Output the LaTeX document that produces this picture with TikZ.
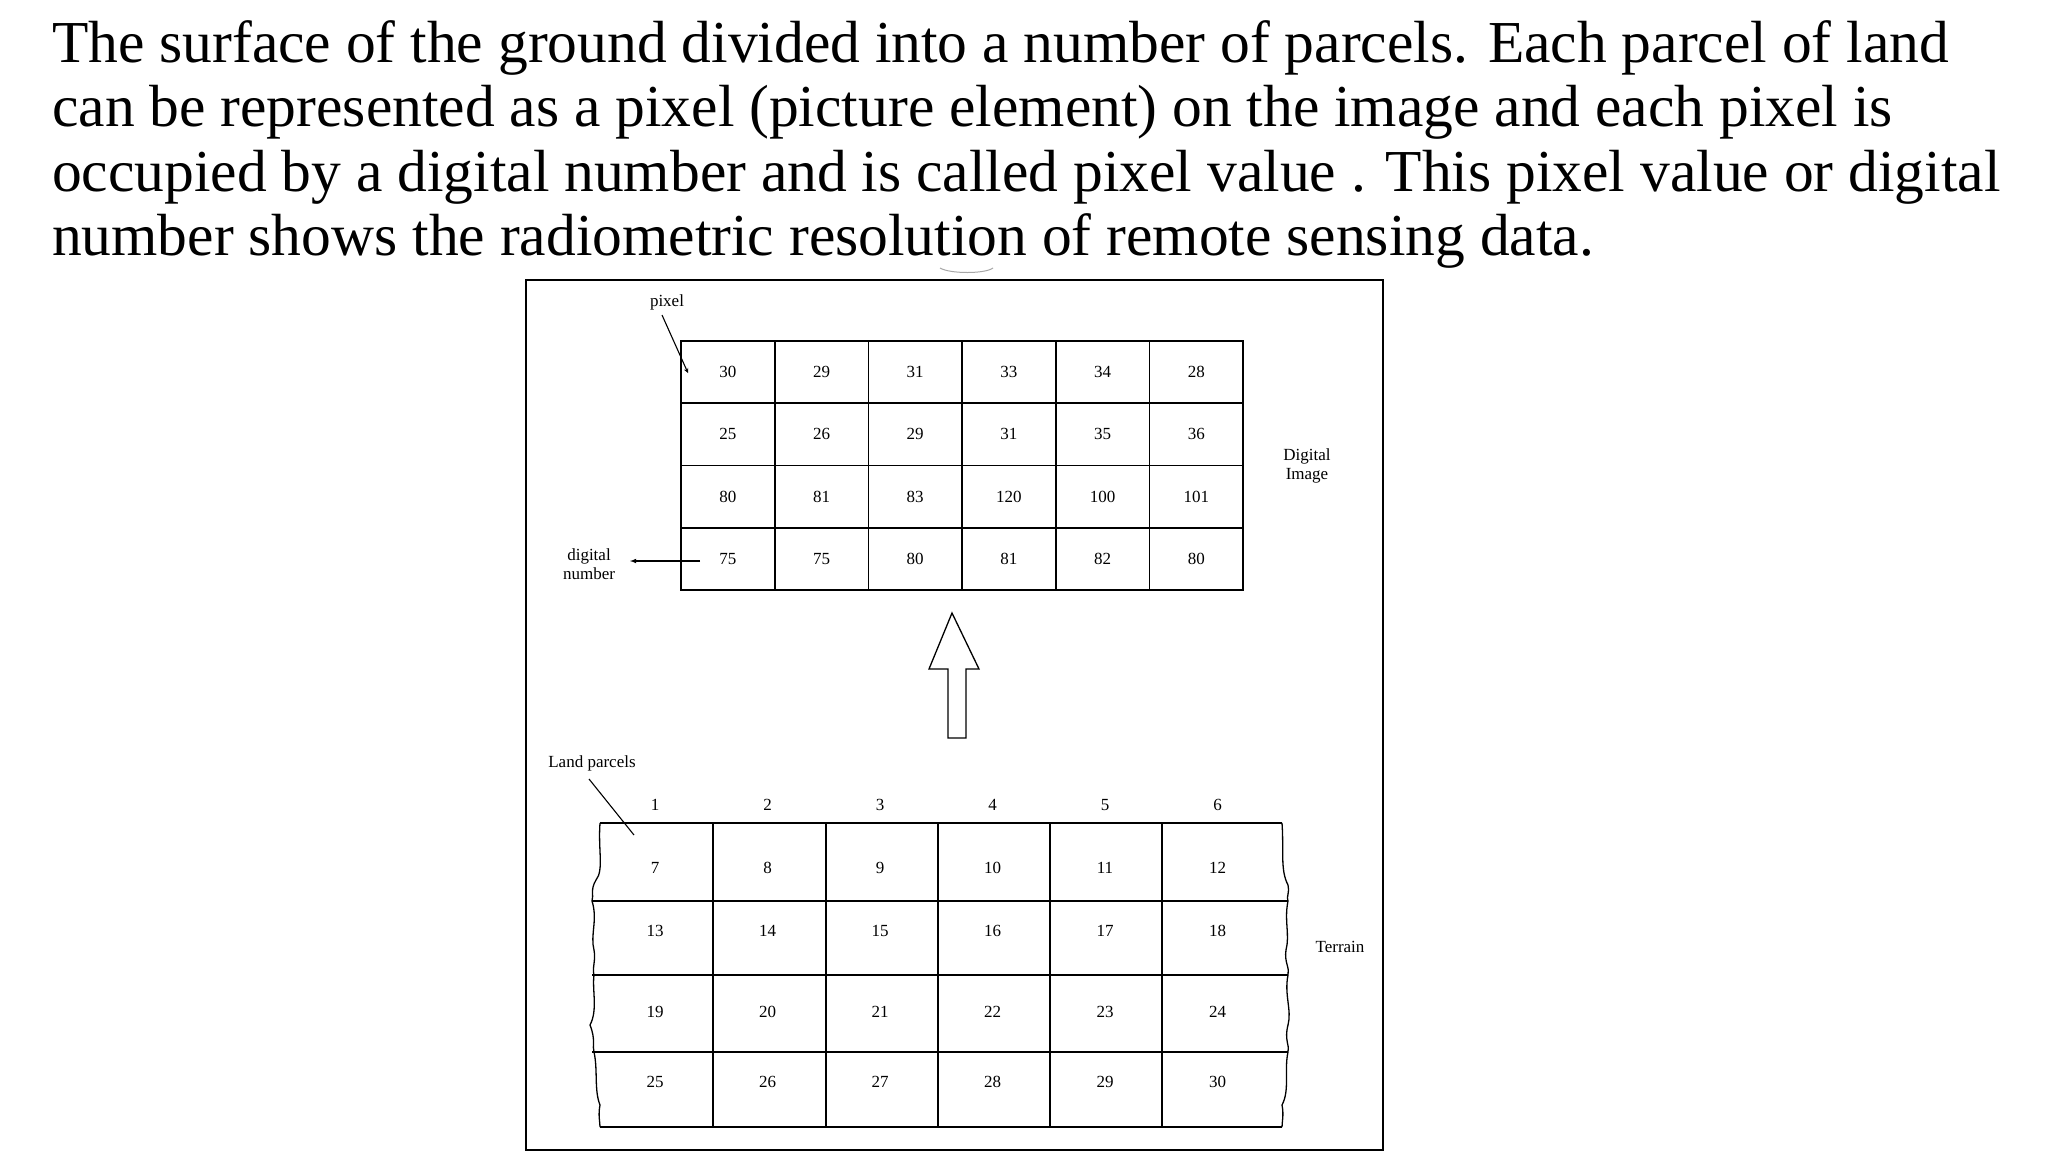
\documentclass[tikz,border=0pt]{standalone}
\usepackage{fontspec}
\setmainfont{Liberation Serif}
\begin{document}
\begin{tikzpicture}[x=1pt,y=-1pt,
  num/.style={font=\fontsize{17}{19}\selectfont,inner sep=0pt},
  lbl/.style={font=\fontsize{17}{19}\selectfont,inner sep=0pt,align=center},
  gridline/.style={line width=1.6pt},
  lead/.style={line width=1.1pt}]
\useasboundingbox (0,0) rectangle (2048,1152);
\fill[white] (0,0) rectangle (2048,1152);
% paragraph
\node[anchor=north west,inner sep=0pt,align=left,font=\fontsize{59.5}{64.5}\selectfont] (para) at (52,20)
{The surface of the ground divided into a number of parcels. Each parcel of land\\
can be represented as a pixel (picture element) on the image and each pixel is\\
occupied by a digital number and is called pixel value . This pixel value or digital\\
number shows the radiometric resolution of remote sensing data.};
\draw[gray!70,line width=1pt] (940,268) .. controls (950,274) and (985,274) .. (993,268);
% frame
\draw[line width=1.3pt] (526,280) rectangle (1383,1150);
% top grid
\draw[gridline] (681,341) rectangle (1243.2,590);
\foreach \i in {1,...,5}{\draw[gridline] ({681+93.7*\i},341) -- ({681+93.7*\i},590);}
\foreach \j in {1,2,3}{\draw[gridline] (681,{341+62.25*\j}) -- (1243.2,{341+62.25*\j});}
\foreach \r [count=\j from 0] in {{30,29,31,33,34,28},{25,26,29,31,35,36},{80,81,83,120,100,101},{75,75,80,81,82,80}}{
  \foreach \v [count=\i from 0] in \r {
    \node[num] (t\j\i) at ({727.8+93.7*\i},{372+62.25*\j}) {\v};
  }
}
\node[lbl] (pix) at (667,302) {pixel};
\coordinate (pixstart) at (662,315);
\coordinate (pixend) at (688,373);
\draw[lead,-stealth] (pixstart) -- (pixend);
\node[lbl] (dn) at (589,564) {digital\\number};
\coordinate (dnstart) at (700,561);
\coordinate (dnend) at (630,561);
\draw[lead,-latex] (dnstart) -- (dnend);
\node[lbl] (di) at (1307,466) {Digital\\Image};
% hollow up arrow
\draw[line width=1.3pt] (952,613) -- (979,669) -- (966,669) -- (966,738) -- (948,738) -- (948,669) -- (929,669) -- cycle;
% bottom grid
\draw[gridline] (600,823) -- (1282,823);
\draw[gridline] (600,1127) -- (1282,1127);
\foreach \y in {901,975,1052}{\draw[gridline] (592,\y) -- (1288,\y);}
\foreach \x in {713,826,938,1050,1162}{\draw[gridline] (\x,823) -- (\x,1127);}
\draw[line width=1.3pt] (600,823) .. controls (598,850) and (604,870) .. (596,880) .. controls (590,890) and (594,895) .. (592,901)
  .. controls (598,920) and (590,935) .. (594,950) .. controls (596,960) and (592,968) .. (594,975)
  .. controls (592,990) and (598,1010) .. (590,1025) .. controls (596,1040) and (592,1046) .. (594,1052)
  .. controls (598,1070) and (594,1090) .. (600,1105) .. controls (598,1115) and (600,1122) .. (600,1127);
\draw[line width=1.3pt] (1282,823) .. controls (1284,850) and (1280,870) .. (1288,885) .. controls (1290,892) and (1286,897) .. (1288,901)
  .. controls (1284,920) and (1290,935) .. (1286,950) .. controls (1284,962) and (1290,968) .. (1288,975)
  .. controls (1284,995) and (1292,1010) .. (1288,1025) .. controls (1284,1040) and (1290,1046) .. (1288,1052)
  .. controls (1284,1070) and (1290,1090) .. (1282,1105) .. controls (1284,1115) and (1282,1122) .. (1282,1127);
\foreach \v [count=\i from 0] in {1,2,3,4,5,6}{\node[num] (c\i) at ({655+112.5*\i},805) {\v};}
\foreach \r/\yy [count=\j from 0] in {{7,8,9,10,11,12}/868,{13,14,15,16,17,18}/931,{19,20,21,22,23,24}/1012,{25,26,27,28,29,30}/1082}{
  \foreach \v [count=\i from 0] in \r {
    \node[num] (b\j\i) at ({655+112.5*\i},\yy) {\v};
  }
}
\node[lbl] (lp) at (592,763) {Land parcels};
\coordinate (lpstart) at (589,779);
\coordinate (lpend) at (634,835);
\draw[lead] (lpstart) -- (lpend);
\node[lbl] (ter) at (1340,947) {Terrain};
\end{tikzpicture}
\end{document}
